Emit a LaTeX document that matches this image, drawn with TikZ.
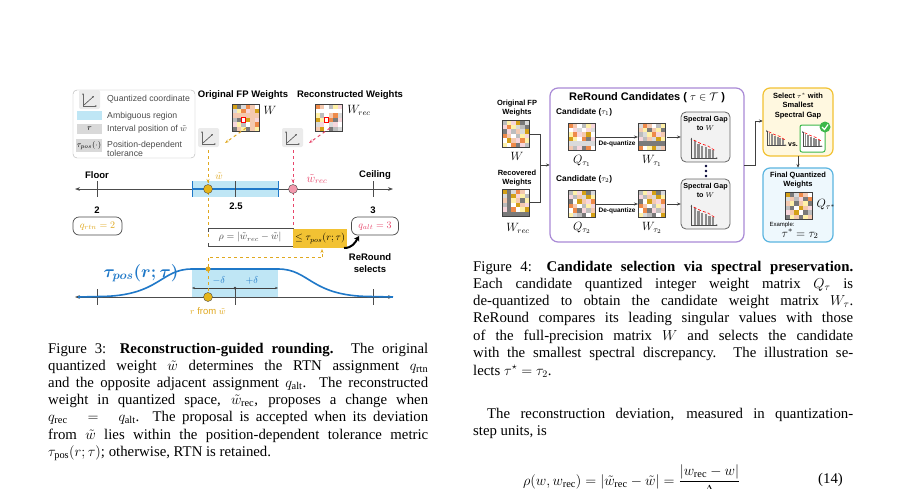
\documentclass[tikz,border=0pt]{standalone}
\usepackage{amsmath,amssymb}
\usepackage{fontspec}
\setmainfont{Liberation Serif}
\newfontfamily\dsf{Liberation Sans}
\usetikzlibrary{arrows.meta}
\definecolor{gd}{HTML}{E0A81E}
\definecolor{pk}{HTML}{E8456A}
\definecolor{bl}{HTML}{1F78C8}
\definecolor{lb}{HTML}{BFE6F5}
\definecolor{pu}{HTML}{A98AD6}
\definecolor{ye}{HTML}{F2C233}
\definecolor{yf}{HTML}{FFF8E0}
\definecolor{gr}{HTML}{3DB84A}
\definecolor{sk}{HTML}{5BB5E0}
\definecolor{sf}{HTML}{EEF8FD}
\definecolor{m1}{HTML}{BDBDBD}\definecolor{m2}{HTML}{7A7A7A}\definecolor{m3}{HTML}{FFFFFF}
\definecolor{m4}{HTML}{D4A017}\definecolor{m5}{HTML}{F4C9B0}\definecolor{m6}{HTML}{F7D6DC}
\definecolor{m7}{HTML}{EE8A4A}\definecolor{m8}{HTML}{FFF1A8}\definecolor{m9}{HTML}{DADADA}
\newcommand\qmat[4]{%
 \foreach \i in {0,...,5}{\foreach \j in {0,...,5}{%
  \pgfmathtruncatemacro\k{mod(\i*7+\j*5+#4*3+\i*\j*#4,9)+1}%
  \fill[m\k] ({#1+\i*#3},{#2+\j*#3}) rectangle ++(#3,#3);}}%
 \draw[black!75,line width=1pt] (#1,#2) rectangle ++({6*#3},{6*#3});}
\newcommand\qicon[2]{%
 \fill[black!8,rounded corners=2pt] (#1,#2) rectangle ++(21,19);
 \draw[black!60,line width=.5pt,-{Stealth[length=2pt]}] ({#1+4},{#2+16})--({#1+4},{#2+3});
 \draw[black!60,line width=.5pt,-{Stealth[length=2pt]}] ({#1+4},{#2+16})--({#1+18},{#2+16});
 \draw[black!70,line width=.6pt,-{Stealth[length=2pt]}] ({#1+5},{#2+15})--({#1+15},{#2+6});}
\newcommand\chart[3]{% x y scale
 \begin{scope}[shift={(#1,#2)},scale=#3]
 \foreach \b/\h in {0/14,1/12,2/10,3/9,4/8,5/7}{\fill[black!45] ({4+\b*3},18) rectangle ++(2,-\h);}
 \draw[black!70,line width=.6pt,-{Stealth[length=2pt]}] (2,18)--(2,1);
 \draw[black!70,line width=.6pt,-{Stealth[length=2pt]}] (2,18)--(24,18);
 \draw[red,densely dashed,line width=.6pt] (4,3)--(10,6)--(16,8)--(22,12);
 \end{scope}}
\tikzset{lbl/.style={font=\dsf\bfseries\fontsize{9.5}{10.5}\selectfont,align=center,inner sep=0pt},
 rl/.style={font=\dsf\bfseries\fontsize{8.3}{10}\selectfont,align=center,inner sep=0pt},
 sm/.style={font=\dsf\fontsize{8.7}{9.5}\selectfont,inner sep=0pt},
 ax/.style={black!70,line width=1pt,{Stealth[length=5pt]}-{Stealth[length=5pt]}},
 dg/.style={gd,dashed,line width=1pt},
 captxt/.style={anchor=west,inner sep=0pt,font=\fontsize{14.8}{17}\selectfont},
 flow/.style={black!75,line width=1pt,-{Stealth[length=4pt]}}}
\begin{document}
\begin{tikzpicture}[x=1pt,y=-1pt]
\useasboundingbox (0,0) rectangle (902,488);
\fill[white] (0,0) rectangle (902,488);
%%%% LEFT FIGURE
\draw[black!30,rounded corners=4pt,fill=white] (73,90) rectangle (195,158);
\qicon{79}{90}
\node[sm,anchor=west,text=black!70] at (107,99) {Quantized coordinate};
\fill[lb] (77,111) rectangle (102,120);
\node[sm,anchor=west,text=black!70] at (107,116) {Ambiguous region};
\fill[black!15] (77,124) rectangle (102,134); \node[sm] at (89.5,129) {$r$};
\node[sm,anchor=west,text=black!70] at (107,129) {Interval position of $\tilde w$};
\fill[black!15] (76,139) rectangle (102,152); \node[sm,font=\fontsize{8}{9}\selectfont] at (89,145.5) {$\tau_{pos}(\cdot)$};
\node[sm,anchor=west,text=black!70,align=left] at (107,149) {Position-dependent\\tolerance};
\node[lbl] at (243,95) {Original FP Weights};
\node[lbl] at (350,95) {Reconstructed Weights};
\qmat{232}{104}{4.6}{1}\draw[red,line width=1pt] (241.2,117.8) rectangle ++(4.6,4.6);
\qmat{315}{104}{4.6}{2}\draw[red,line width=1pt] (324.2,117.8) rectangle ++(4.6,4.6);
\node[font=\large] at (270,110) {$W$};
\node[font=\large] at (359,110) {$W_{rec}$};
\qicon{198}{128}\qicon{282}{128}
\draw[gd,dashed,line width=1pt,-{Stealth[length=4pt]}] (246,128)--(225,143);
\draw[pk,dashed,line width=1pt,-{Stealth[length=4pt]}] (330,128)--(309,143);
% number line
\fill[lb] (192,181) rectangle (278,197);
\draw[ax] (75,189)--(393,189);
\draw[bl,line width=1.6pt] (192,189)--(278,189);
\foreach \x in {192,278}\draw[bl,line width=1pt] (\x,181)--(\x,197);
\foreach \x in {97,235,373}\draw[black!70,line width=1pt] (\x,181)--(\x,197);
\node[lbl] at (97,175) {Floor};
\node[lbl] at (375,175) {Ceiling};
\draw[dg] (208,150)--(208,238);
\draw[pk,dashed,line width=1pt] (293,150)--(293,230);
\draw[dg,-{Stealth[length=4pt]}] (208,150)--(208,183);
\draw[pk,dashed,line width=1pt,-{Stealth[length=4pt]}] (293,150)--(293,183);
\node[gd] at (219,176) {$\tilde w$};
\node[pk,font=\large] at (317,179) {$\tilde w_{rec}$};
\fill[gd!85!yellow,draw=black!70] (208,189) circle (4.5);
\fill[pk!55,draw=black!70] (293,189) circle (4.5);
\node[lbl] at (97,210) {2};\node[lbl] at (236,206) {2.5};\node[lbl] at (373,210) {3};
\node[draw=black!70,rounded corners=6pt,minimum width=49,minimum height=18,text=gd,line width=.7pt] (qr) at (97.5,226) {$q_{rtn}=2$};
\node[draw=black!70,rounded corners=6pt,minimum width=47,minimum height=18,text=pk,line width=.7pt] (qa) at (375,226) {$q_{alt}=3$};
\draw[black!70,line width=.8pt] (208,232)--(208,228)--(293,228)--(293,232);
\draw[black!70,line width=.8pt] (208,243)--(208,246)--(293,246)--(293,243);
\node[text=black!75] at (250,237) {$\rho=|\tilde w_{rec}-\tilde w|$};
\fill[ye] (293,229) rectangle (347,248);
\node at (320,238.5) {$\le\tau_{pos}(r;\tau)$};
\draw[black,line width=2pt,-{Stealth[length=5pt,width=6pt]}] (344,248) .. controls (352,248) and (355,243) .. (359,236);
\node[lbl,font=\dsf\bfseries\fontsize{9.5}{11.5}\selectfont] at (370,263) {ReRound\\selects};
% tolerance curve
\fill[lb] (192,268) rectangle (278,297);
\draw[ax] (75,297)--(393,297);
\foreach \x in {97,235,373}\draw[black!70,line width=1pt] (\x,289)--(\x,305);
\draw[bl,line width=1.6pt] (78,297)--(100,296.5) .. controls (160,296) and (160,269) .. (192,269) -- (278,269) .. controls (310,269) and (310,296) .. (370,296.5) -- (393,297);
\draw[black!75,line width=.8pt,{Stealth[length=3pt]}-{Stealth[length=3pt]}] (192,288)--(278,288);
\fill[black!75] (235,288) circle (1.5);
\node[bl] at (219,280) {$-\delta$};
\node[bl] at (252,280) {$+\delta$};
\node[bl,font=\LARGE] at (141,273) {$\boldsymbol{\tau_{pos}(r;\tau)}$};
\draw[dg] (208,297)--(208,257)--(322,257);
\draw[dg,-{Stealth[length=4pt]}] (322,257)--(322,249);
\fill[gd] (208,269) circle (2.5);
\fill[gd!85!yellow,draw=black!70] (208,297) circle (4.5);
\node[sm,text=gd,font=\dsf\fontsize{9.5}{10}\selectfont] at (208,311) {$r$ from $\tilde w$};
%%%% RIGHT FIGURE
\node[rl,font=\dsf\bfseries\fontsize{7.5}{9.5}\selectfont] at (517,108) {Original FP\\Weights};
\qmat{502}{120}{4.6}{3}
\node[font=\large] at (517,156) {$W$};
\node[rl,font=\dsf\bfseries\fontsize{7.5}{9.5}\selectfont] at (517,178) {Recovered\\Weights};
\qmat{502}{189}{4.6}{4}
\node[font=\large] at (518,228) {$W_{rec}$};
\draw[black!75,line width=1pt] (530,134)--(540,134)--(540,202)--(530,202);
\draw[flow] (540,165)--(550,165);
\draw[pu,line width=1.2pt,rounded corners=8pt] (550,88) rectangle (744,242);
\node[rl,font=\dsf\bfseries\fontsize{11}{12}\selectfont] at (647,98) {ReRound Candidates ( $\tau\in\mathcal{T}$ )};
\foreach \yy/\n/\s in {0/1/5,67/2/6}{
 \node[rl,anchor=west] at (556,{112+\yy}) {Candidate ($\tau_\n$)};
 \qmat{568}{123+\yy}{4.6}{\s}
 \node[font=\large] at (582,{161+\yy}) {$Q_{\tau_\n}$};
 \draw[flow] (596,{137+\yy})--(638,{137+\yy});
 \node[rl,font=\dsf\bfseries\fontsize{6.5}{7}\selectfont] at (617,{144+\yy}) {De-quantize};
 \qmat{638}{123+\yy}{4.6}{\s+3}
 \node[font=\large] at (652,{161+\yy}) {$W_{\tau_\n}$};
 \draw[flow] (667,{137+\yy})--(681,{137+\yy});
 \draw[black!60,fill=black!5,rounded corners=5pt,line width=.8pt] (681,{112+\yy}) rectangle (730,{162+\yy});
 \node[rl,font=\dsf\bfseries\fontsize{7.2}{9}\selectfont] at (705.5,{123+\yy}) {Spectral Gap\\to $W$};
 \chart{689}{136.5+\yy}{1.2}
}
\foreach \yy in {166,171,176}\fill[black!80!blue] (706,\yy) circle (1.4);
\draw[flow] (744,165)--(755,165)--(755,121)--(763,121);
\draw[ye,fill=yf,line width=1.2pt,rounded corners=7pt] (763,88) rectangle (833,156);
\node[rl,font=\dsf\bfseries\fontsize{7.5}{9.5}\selectfont] at (798,106) {Select $\tau^*$ with\\Smallest\\Spectral Gap};
\chart{765}{129}{.9}
\node[rl,font=\dsf\bfseries\fontsize{7}{7}\selectfont] at (793,145) {vs.};
\draw[gr,fill=white,line width=1pt,rounded corners=2pt] (800,125) rectangle (825,152);
\chart{801}{130}{.9}
\fill[gr] (825,127) circle (5.5);
\draw[white,line width=1.2pt] (822,127)--(824.5,129.5)--(828,124.5);
\draw[flow] (798,156)--(798,168);
\draw[sk,fill=sf,line width=1.2pt,rounded corners=7pt] (763,168) rectangle (833,242);
\node[rl,font=\dsf\bfseries\fontsize{7.5}{9.5}\selectfont] at (798,180) {Final Quantized\\Weights};
\qmat{785}{192}{4.5}{7}
\node[font=\large] at (826,205) {$Q_{\tau^*}$};
\node[sm,font=\dsf\fontsize{6}{6}\selectfont] at (782,225) {Example:};
\node[font=\large] at (800,234) {$\tau^*=\tau_2$};
%%%% CAPTIONS
\node[captxt] at (48,350) {\makebox[380pt][s]{Figure 3: \textbf{Reconstruction-guided rounding.} The original}};
\node[captxt] at (48,367) {\makebox[380pt][s]{quantized weight $\tilde w$ determines the RTN assignment $q_{\mathrm{rtn}}$}};
\node[captxt] at (48,384) {\makebox[380pt][s]{and the opposite adjacent assignment $q_{\mathrm{alt}}$. The reconstructed}};
\node[captxt] at (48,401) {\makebox[380pt][s]{weight in quantized space, $\tilde w_{\mathrm{rec}}$, proposes a change when}};
\node[captxt] at (48,418) {\makebox[380pt][s]{$q_{\mathrm{rec}}\;=\;q_{\mathrm{alt}}$. The proposal is accepted when its deviation}};
\node[captxt] at (48,436) {\makebox[380pt][s]{from $\tilde w$ lies within the position-dependent tolerance metric}};
\node[captxt] at (48,453) {$\tau_{\mathrm{pos}}(r;\tau)$; otherwise, RTN is retained.};
\node[captxt] at (473,268) {\makebox[380pt][s]{Figure 4: \textbf{Candidate selection via spectral preservation.}}};
\node[captxt] at (473,285) {\makebox[380pt][s]{Each candidate quantized integer weight matrix $Q_\tau$ is}};
\node[captxt] at (473,302) {\makebox[380pt][s]{de-quantized to obtain the candidate weight matrix $W_\tau$.}};
\node[captxt] at (473,319) {\makebox[380pt][s]{ReRound compares its leading singular values with those}};
\node[captxt] at (473,337) {\makebox[380pt][s]{of the full-precision matrix $W$ and selects the candidate}};
\node[captxt] at (473,354) {\makebox[380pt][s]{with the smallest spectral discrepancy. The illustration se-}};
\node[captxt] at (473,371) {lects $\tau^\star=\tau_2$.};
\node[captxt] at (487,415) {\makebox[366pt][s]{The reconstruction deviation, measured in quantization-}};
\node[captxt] at (473,432) {step units, is};
\node[captxt] at (523,480) {$\rho(w,w_{\mathrm{rec}})=|\tilde w_{\mathrm{rec}}-\tilde w|=\dfrac{|w_{\mathrm{rec}}-w|}{\Delta}$};
\node[captxt] at (818,480) {(14)};
\end{tikzpicture}
\end{document}
